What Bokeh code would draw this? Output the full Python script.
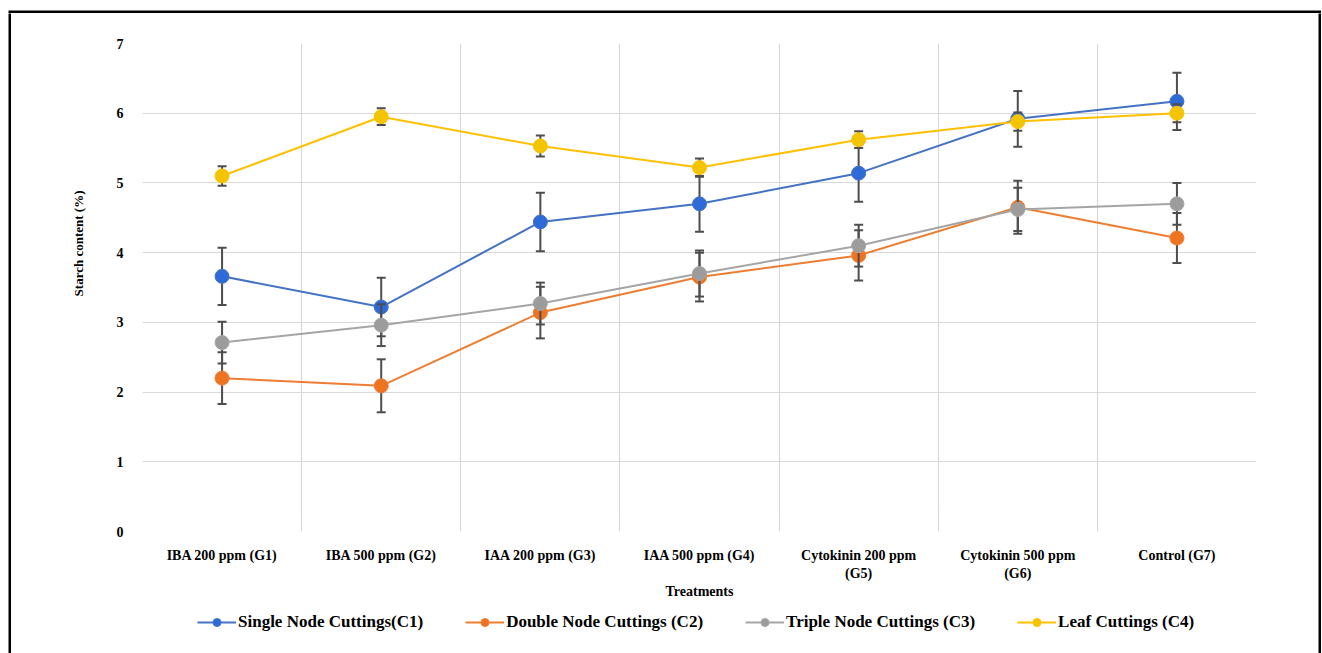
from bokeh.plotting import figure
from bokeh.models import (FixedTicker, Legend, LegendItem, ColumnDataSource, Range1d, Title, Spacer)
from bokeh.layouts import row, column
from bokeh.embed import file_html
from bokeh.resources import INLINE

treatments = ["IBA 200 ppm (G1)", "IBA 500 ppm (G2)", "IAA 200 ppm (G3)", "IAA 500 ppm (G4)",
              "Cytokinin 200 ppm\n(G5)", "Cytokinin 500 ppm\n(G6)", "Control (G7)"]

single_node = [3.66, 3.22, 4.44, 4.70, 5.14, 5.92, 6.17]
single_err = [0.41, 0.42, 0.42, 0.40, 0.41, 0.40, 0.41]
double_node = [2.20, 2.09, 3.14, 3.65, 3.96, 4.65, 4.21]
double_err = [0.37, 0.38, 0.37, 0.35, 0.36, 0.38, 0.36]
triple_node = [2.71, 2.96, 3.27, 3.70, 4.10, 4.62, 4.70]
triple_err = [0.30, 0.30, 0.30, 0.33, 0.30, 0.31, 0.30]
leaf = [5.10, 5.95, 5.53, 5.22, 5.62, 5.88, 6.00]
leaf_err = [0.14, 0.12, 0.15, 0.13, 0.12, 0.13, 0.13]

series = [
    ("Single Node Cuttings(C1)", single_node, single_err, "#4472C4", "#2E6BD6"),
    ("Double Node Cuttings (C2)", double_node, double_err, "#ED7D31", "#EE7422"),
    ("Triple Node Cuttings (C3)", triple_node, triple_err, "#A5A5A5", "#9C9C9C"),
    ("Leaf Cuttings (C4)", leaf, leaf_err, "#FFC000", "#F2C500"),
]

FONT = "Liberation Serif"
INNER_W = 1307
MAIN_H = 588
LEG_H = 52


def bar(w, h, pad_top=0):
    b = figure(width=w, height=h, output_backend="svg", toolbar_location=None,
               min_border=0, min_border_top=pad_top, x_axis_type=None, y_axis_type=None)
    b.background_fill_color = "black"
    b.border_fill_color = "white" if pad_top else "black"
    b.outline_line_color = None
    b.grid.visible = False
    return b


p = figure(width=INNER_W, height=MAIN_H, output_backend="svg", toolbar_location=None,
           x_range=Range1d(-0.5, 6.5), y_range=Range1d(0, 7),
           min_border_left=131, min_border_right=62, min_border_top=30, min_border_bottom=68)
p.outline_line_color = None

xs = list(range(len(treatments)))
p.xaxis.ticker = FixedTicker(ticks=xs)
p.xaxis.major_label_overrides = {i: t for i, t in enumerate(treatments)}
p.xgrid.ticker = FixedTicker(ticks=[i - 0.5 for i in range(len(treatments) + 1)])
p.yaxis.ticker = FixedTicker(ticks=list(range(0, 8)))
for ax in (p.xaxis, p.yaxis):
    ax.axis_line_color = None
    ax.major_tick_line_color = None
    ax.minor_tick_line_color = None
    ax.major_label_text_font = FONT
    ax.major_label_text_font_style = "bold"
    ax.major_label_text_font_size = "14px"
    ax.major_label_text_color = "#000000"
    ax.axis_label_text_font = FONT
    ax.axis_label_text_font_style = "bold"
    ax.axis_label_text_color = "#000000"
p.xaxis.major_label_standoff = 10
p.yaxis.major_label_standoff = 13
p.xaxis.axis_label = "Treatments"
p.xaxis.axis_label_text_font_size = "14px"
p.xaxis.axis_label_standoff = 0
p.grid.grid_line_color = "#D9D9D9"
p.grid.grid_line_width = 1.2

ytitle = Title(text="Starch content (%)", align="right", offset=147, standoff=55,
               text_font=FONT, text_font_style="bold", text_font_size="13px", text_color="#000000")
p.add_layout(ytitle, "left")

lg = figure(width=INNER_W, height=LEG_H, output_backend="svg", toolbar_location=None,
            x_range=Range1d(0, 1), y_range=Range1d(100, 101), min_border=0,
            x_axis_type=None, y_axis_type=None)
lg.outline_line_color = None
lg.grid.visible = False

items = []
for name, vals, errs, lc, mc in series:
    src = ColumnDataSource(dict(x=xs, y=vals, lo=[v - e for v, e in zip(vals, errs)],
                                hi=[v + e for v, e in zip(vals, errs)]))
    p.line("x", "y", source=src, line_color=lc, line_width=2)
    p.segment(x0="x", y0="lo", x1="x", y1="hi", source=src, line_color="#4D4D4D", line_width=2)
    p.scatter("x", "lo", source=src, marker="dash", size=9, line_color="#4D4D4D", line_width=2)
    p.scatter("x", "hi", source=src, marker="dash", size=9, line_color="#4D4D4D", line_width=2)
    p.scatter("x", "y", source=src, marker="circle", size=14, fill_color=mc,
              line_color=lc, line_width=1)
    # legend swatches (their data lie outside this figure's range, only the legend shows)
    l_ln = lg.line("x", "y", source=src, line_color=lc, line_width=2)
    l_c = lg.scatter("x", "y", source=src, marker="circle", size=13, fill_color=mc,
                     line_color=lc, line_width=1)
    items.append(LegendItem(label=name, renderers=[l_ln, l_c]))

legend = Legend(items=items, orientation="horizontal", location=(55, 21),
                label_text_font=FONT, label_text_font_style="bold", label_text_font_size="17px",
                label_text_color="#000000", glyph_width=39, label_standoff=2, spacing=42,
                border_line_color=None, background_fill_alpha=0, margin=0, padding=4)
lg.add_layout(legend)

layout = row(
    Spacer(width=8, height=653),
    column(
        bar(INNER_W + 6, 13, pad_top=10),
        row(bar(3, MAIN_H + LEG_H), column(p, lg), bar(3, MAIN_H + LEG_H)),
    ),
)

open("out.html", "w").write(file_html(layout, INLINE))
